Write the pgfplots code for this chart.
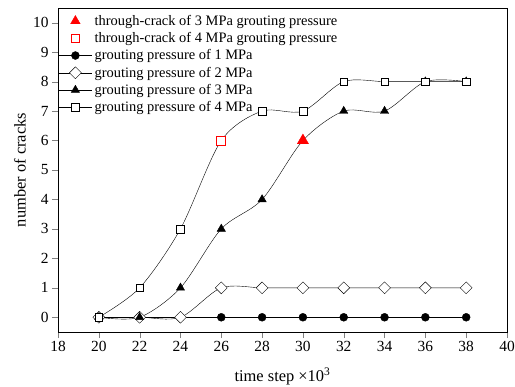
\documentclass[border=0pt]{standalone}
\usepackage{pgfplots}
\pgfplotsset{compat=1.18}
\usepackage{fontspec}
\setmainfont{Liberation Serif}
\begin{document}
\begin{tikzpicture}[x=1bp,y=1bp]
\begin{axis}[
  scale only axis,
  width=449bp, height=324bp,
  xmin=18, xmax=40, ymin=-0.5, ymax=10.5,
  xtick={18,20,...,40}, ytick={0,1,...,10},
  tick align=outside, tick pos=left,
  major tick length=6bp,
  /pgf/number format/assume math mode=true,
  tick label style={font=\fontsize{15.5}{17}\selectfont},
  xlabel={time step ×10\textsuperscript{3}},
  ylabel={number of cracks},
  every axis x label/.style={at={(axis description cs:0.5,-0.136)}, anchor=center, font=\fontsize{16.5}{18}\selectfont},
  every axis y label/.style={at={(axis description cs:-0.085,0.5)}, anchor=center, rotate=90, font=\fontsize{16.5}{18}\selectfont},
  axis line style={line width=0.8pt},
  legend style={draw=none, fill=none, at={(0,1)}, anchor=north west, yshift=-3bp,
    inner xsep=0pt, inner ysep=2bp,
    font=\fontsize{14.5}{16}\selectfont, row sep=1.6bp,
    /tikz/every even column/.append style={column sep=2bp}},
  legend cell align=left,
  legend image code/.code={%
    \draw[mark repeat=2,mark phase=2] plot coordinates {(0bp,0bp)(17bp,0bp)(34bp,0bp)};},
]
\addlegendimage{only marks, mark=triangle*, mark size=5.5bp, color=red}
\addlegendentry{through-crack of 3 MPa grouting pressure}
\addlegendimage{only marks, mark=square*, mark size=4.2bp, draw=red, fill=white, mark options={line width=0.8pt}}
\addlegendentry{through-crack of 4 MPa grouting pressure}

\addplot[black, thin, smooth, tension=0.5, mark=*, mark size=4bp] coordinates {
(20,0)(22,0)(24,0)(26,0)(28,0)(30,0)(32,0)(34,0)(36,0)(38,0)};
\addlegendentry{grouting pressure of 1 MPa}
\addplot[black, thin, smooth, tension=0.5, mark=square*, mark size=4.2bp, mark options={fill=white, rotate=45}] coordinates {
(20,0)(22,0)(24,0)(26,1)(28,1)(30,1)(32,1)(34,1)(36,1)(38,1)};
\addlegendentry{grouting pressure of 2 MPa}
\addplot[black, thin, smooth, tension=0.5, mark=triangle*, mark size=4.8bp] coordinates {
(20,0)(22,0)(24,1)(26,3)(28,4)(30,6)(32,7)(34,7)(36,8)(38,8)};
\addlegendentry{grouting pressure of 3 MPa}
\addplot[black, thin, smooth, tension=0.5, mark=square*, mark size=3.8bp, mark options={fill=white}] coordinates {
(20,0)(22,1)(24,3)(26,6)(28,7)(30,7)(32,8)(34,8)(36,8)(38,8)};
\addlegendentry{grouting pressure of 4 MPa}

\addplot[forget plot, only marks, mark=triangle*, mark size=6.5bp, color=red] coordinates {(30,6)};
\addplot[forget plot, only marks, mark=square*, mark size=4.5bp, draw=red, fill=white, mark options={line width=0.8pt}] coordinates {(26,6)};
\end{axis}
\pgfresetboundingbox
\path ([shift={(-58bp,-55bp)}]current axis.south west) rectangle ([shift={(8bp,8bp)}]current axis.north east);
\end{tikzpicture}
\end{document}
